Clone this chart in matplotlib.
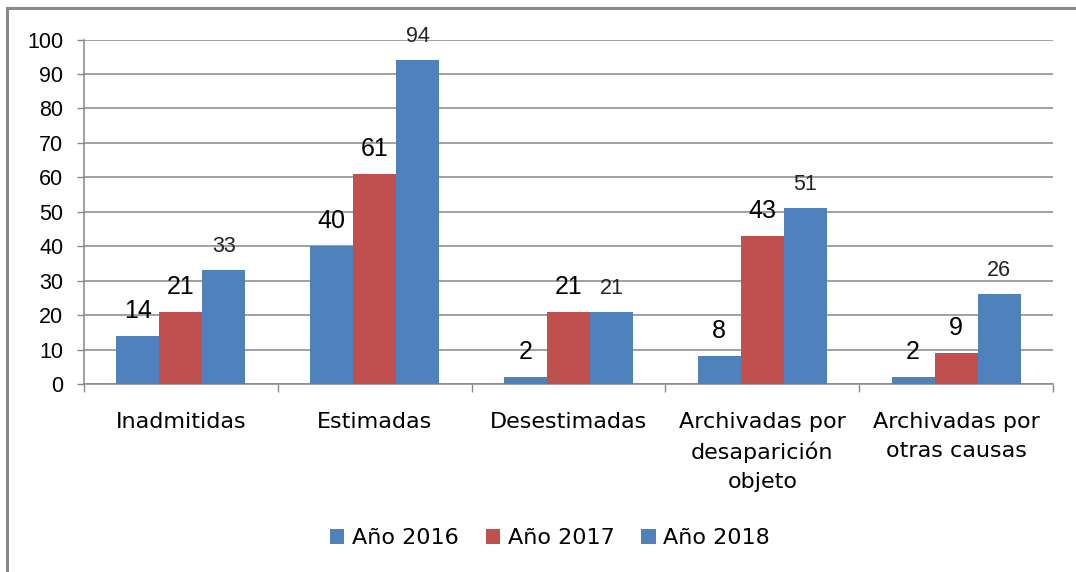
import numpy as np
import matplotlib
matplotlib.use("Agg")
import matplotlib.pyplot as plt
from matplotlib.lines import Line2D
from matplotlib.patches import Patch

categories = ["Inadmitidas", "Estimadas", "Desestimadas",
              "Archivadas por\ndesaparición\nobjeto", "Archivadas por\notras causas"]
series_names = ["Año 2016", "Año 2017", "Año 2018"]
v2016 = [14, 40, 2, 8, 2]
v2017 = [21, 61, 21, 43, 9]
v2018 = [33, 94, 21, 51, 26]

BLUE = "#4F81BD"
RED = "#C0504D"
GRID = "#888888"

W, H = 1076, 572
fig = plt.figure(figsize=(W / 100, H / 100), dpi=100)
ax = fig.add_axes([84 / W, 1 - 384 / H, (1053 - 84) / W, (384 - 39.5) / H])

x = np.arange(len(categories))
bw = 0.222
series = [(v2016, BLUE, 18, "#000000"), (v2017, RED, 18, "#000000"),
          (v2018, BLUE, 15.5, "#222222")]
for k, (vals, col, fs, tcol) in enumerate(series):
    pos = x + (k - 1) * bw
    bars = ax.bar(pos, vals, width=bw, color=col, edgecolor="none", zorder=3)
    for b, v in zip(bars, vals):
        ax.annotate(str(v), (b.get_x() + b.get_width() / 2, v),
                    xytext=(0, 13), textcoords="offset points",
                    ha="center", va="baseline", fontsize=fs, color=tcol,
                    family="Liberation Sans", zorder=4)

ax.set_xlim(-0.5, len(categories) - 0.5)
ax.set_ylim(0, 100)
ax.set_yticks(np.arange(0, 101, 10))
ax.yaxis.grid(True, color=GRID, linewidth=1.1, zorder=0)
ax.set_axisbelow(True)

for tl in ax.get_yticklabels():
    tl.set_family("Liberation Sans")
ax.tick_params(axis="y", labelsize=15.5, length=5, width=1, color=GRID, pad=10)

ax.set_xticks(x)
ax.set_xticklabels(categories, fontsize=16, family="DejaVu Sans", linespacing=1.55)
ax.set_xticks(np.arange(-0.5, len(categories)), minor=True)
ax.tick_params(axis="x", which="major", length=0, pad=20)
ax.tick_params(axis="x", which="minor", length=6, width=1, color=GRID)

for s in ["top", "right"]:
    ax.spines[s].set_visible(False)
for s in ["left", "bottom"]:
    ax.spines[s].set_color(GRID)
    ax.spines[s].set_linewidth(1.1)

handles = [Patch(facecolor=BLUE), Patch(facecolor=RED), Patch(facecolor=BLUE)]
fig.legend(handles, series_names, loc="center", bbox_to_anchor=(550 / W, 1 - 538 / H),
           ncol=3, frameon=False, prop={"family": "DejaVu Sans", "size": 16},
           handlelength=0.65, handleheight=0.65, handletextpad=0.35, columnspacing=1.2)

# chart border (top and left edges visible)
fig.add_artist(Line2D([7 / W, 7 / W], [0, 1 - 8 / H], transform=fig.transFigure,
                      color="#8a8a8a", linewidth=2.2))
fig.add_artist(Line2D([7 / W, 1], [1 - 8 / H, 1 - 8 / H], transform=fig.transFigure,
                      color="#8a8a8a", linewidth=2.2))

fig.savefig("out.png", dpi=100)
